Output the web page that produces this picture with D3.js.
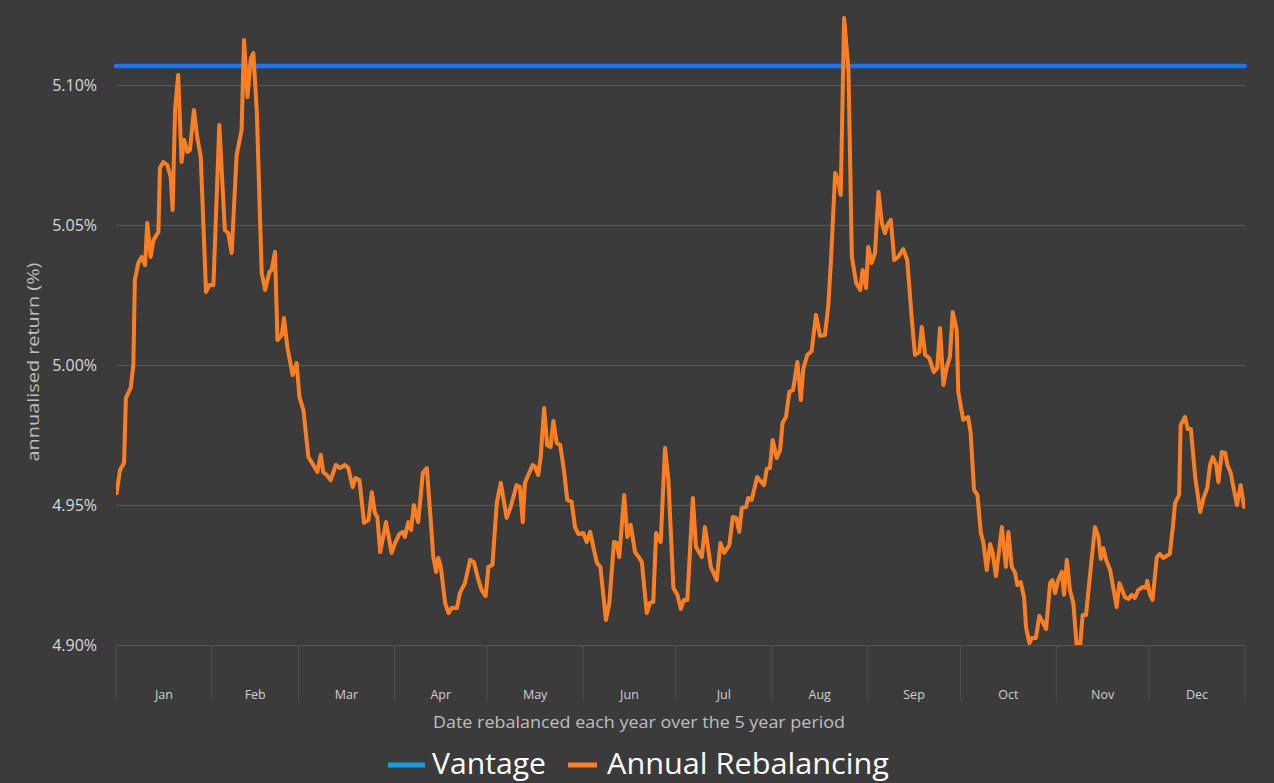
<!DOCTYPE html>
<html>
<head>
<meta charset="utf-8">
<script src="https://cdn.jsdelivr.net/npm/d3@7"></script>
<style>
  html, body { margin: 0; padding: 0; background: #3b3b3b; }
  svg { display: block; }
</style>
</head>
<body>
<div id="chart"></div>
<script>
const months = ["Jan", "Feb", "Mar", "Apr", "May", "Jun", "Jul", "Aug", "Sep", "Oct", "Nov", "Dec"];
const monthDays = [31, 28, 31, 30, 31, 30, 31, 31, 30, 31, 30, 31];
const yTicks = [4.9, 4.95, 5.0, 5.05, 5.1];
const vantage = 5.1068;
// [day of year, annualised return %]
const annualRebalancing = [
  [0.2,4.9542],[1.3,4.9625],[2.6,4.965],[3.2,4.9882],[4.75,4.9918],[5.6,5.0],[6.1,5.0304],[7.2,5.0364],
  [8.3,5.0386],[9.4,5.0357],[10.1,5.0507],[11.2,5.0386],[12.1,5.0446],[13.7,5.0475],[14.2,5.0704],[15.3,5.0725],
  [16.6,5.0714],[17.7,5.0671],[18.3,5.0554],[19.1,5.0911],[20.1,5.1036],[21.2,5.0725],[22.0,5.0804],[23.1,5.0761],
  [23.9,5.0768],[25.2,5.0911],[26.3,5.0811],[27.4,5.0743],[29.1,5.0261],[30.2,5.0286],[31.5,5.0286],[33.4,5.0857],
  [35.2,5.0482],[36.3,5.0471],[37.4,5.04],[39.0,5.075],[40.6,5.0839],[41.4,5.1161],[42.5,5.0957],[43.6,5.1096],
  [44.4,5.1114],[45.5,5.0911],[47.1,5.0329],[48.2,5.0268],[49.6,5.0332],[50.3,5.0339],[51.4,5.0404],[52.2,5.0089],
  [53.6,5.0107],[54.3,5.0168],[55.4,5.0064],[57.1,4.9964],[58.4,5.0007],[59.3,4.9886],[60.6,4.9839],[62.2,4.9671],
  [63.8,4.9643],[65.1,4.9618],[66.2,4.9679],[67.0,4.9618],[68.1,4.9607],[69.4,4.9589],[71.1,4.9643],[72.4,4.9632],
  [74.0,4.9643],[75.1,4.9632],[76.5,4.9564],[77.4,4.9596],[78.7,4.9589],[80.2,4.9436],[81.6,4.9446],[82.7,4.9546],
  [83.7,4.9471],[84.5,4.9457],[85.4,4.9332],[87.3,4.9439],[89.1,4.9329],[90.2,4.9364],[91.6,4.9396],[92.7,4.9404],
  [93.4,4.9386],[94.5,4.9439],[95.4,4.9411],[96.3,4.95],[96.9,4.9471],[97.7,4.9439],[99.2,4.9614],[100.5,4.9632],
  [101.5,4.9482],[102.6,4.9314],[103.5,4.9261],[104.2,4.9311],[105.0,4.9279],[106.4,4.915],[107.5,4.9114],[108.5,4.9132],
  [110.2,4.9132],[111.2,4.9186],[112.8,4.9221],[114.5,4.9304],[115.7,4.9296],[117.0,4.9239],[118.2,4.9196],[119.5,4.9175],
  [120.4,4.9279],[121.7,4.9286],[123.1,4.9507],[124.4,4.9579],[126.3,4.9454],[127.6,4.9493],[129.5,4.9571],[130.6,4.9564],
  [131.5,4.9439],[132.2,4.9579],[133.3,4.9607],[134.7,4.9643],[135.5,4.9636],[136.5,4.9607],[137.3,4.9671],[138.4,4.9846],
  [139.4,4.9714],[140.5,4.9707],[141.4,4.98],[142.5,4.9721],[143.6,4.9714],[144.8,4.9625],[145.9,4.9518],[147.3,4.9511],
  [148.4,4.9421],[149.5,4.9396],[151.1,4.94],[152.2,4.9368],[153.3,4.9404],[154.3,4.935],[155.5,4.9293],[156.6,4.9279],
  [158.4,4.9089],[159.5,4.915],[161.0,4.9368],[161.9,4.9364],[162.7,4.9314],[164.3,4.9536],[165.3,4.9386],[166.4,4.9429],
  [167.8,4.9332],[169.2,4.9311],[170.0,4.9296],[171.6,4.9114],[172.6,4.915],[173.7,4.9154],[174.6,4.94],[176.1,4.9368],
  [177.5,4.9704],[178.6,4.9589],[180.2,4.9204],[181.5,4.9179],[182.6,4.9129],[183.6,4.9161],[184.7,4.9161],[186.5,4.9525],
  [187.5,4.935],[189.4,4.9314],[190.4,4.9421],[191.2,4.9364],[192.3,4.9279],[194.2,4.9232],[195.4,4.9364],[196.6,4.9329],
  [198.3,4.9357],[199.4,4.9457],[200.5,4.9454],[201.5,4.9404],[202.3,4.9489],[203.7,4.9493],[204.4,4.9525],[205.5,4.9518],
  [207.3,4.96],[209.5,4.9571],[210.4,4.9629],[211.4,4.9632],[212.3,4.9732],[213.6,4.9668],[214.7,4.9696],[215.5,4.9793],
  [216.6,4.9814],[217.7,4.9904],[218.9,4.9911],[220.3,5.0011],[221.4,4.9875],[222.2,4.9986],[223.5,5.0036],[224.9,5.005],
  [226.3,5.0179],[227.6,5.0104],[229.2,5.0107],[230.3,5.0214],[231.1,5.0364],[232.5,5.0686],[233.5,5.0661],[234.3,5.0607],
  [235.4,5.1239],[236.8,5.1054],[237.9,5.0386],[239.3,5.0293],[240.6,5.0268],[241.4,5.0339],[242.5,5.0275],[243.2,5.0421],
  [244.3,5.0364],[245.4,5.04],[246.5,5.0618],[247.6,5.0507],[248.6,5.0471],[249.4,5.05],[250.5,5.0518],[251.6,5.0375],
  [252.9,5.0386],[254.5,5.0414],[255.8,5.0375],[257.3,5.0161],[258.3,5.0036],[259.7,5.0046],[260.5,5.0136],[261.6,5.0036],
  [262.9,5.0025],[264.4,4.9975],[265.5,4.9989],[266.4,5.0132],[267.5,4.9929],[268.6,4.9993],[269.6,5.0029],[270.5,5.0189],
  [271.8,5.0125],[272.3,4.9904],[273.9,4.9804],[275.5,4.9814],[276.3,4.9757],[277.4,4.9554],[278.5,4.9536],[279.6,4.94],
  [280.4,4.9368],[281.5,4.9268],[282.6,4.9361],[283.4,4.9329],[284.5,4.9246],[286.4,4.9421],[287.7,4.9279],[288.5,4.9404],
  [289.6,4.9279],[290.7,4.9257],[291.4,4.9214],[292.5,4.9225],[293.6,4.9168],[294.2,4.9064],[295.3,4.9007],[296.1,4.9025],
  [297.4,4.9025],[298.5,4.9104],[299.6,4.9082],[300.7,4.9057],[302.0,4.9221],[302.8,4.9232],[303.6,4.9186],[304.6,4.9232],
  [305.8,4.9261],[306.5,4.9179],[307.4,4.9304],[308.4,4.9196],[309.5,4.915],[310.6,4.8995],[311.7,4.8995],[312.5,4.9107],
  [313.6,4.9107],[314.9,4.925],[316.5,4.9421],[317.6,4.9386],[318.4,4.9307],[319.2,4.9346],[320.1,4.9304],[321.4,4.9268],
  [322.7,4.9186],[323.5,4.9136],[324.4,4.9221],[326.2,4.9171],[327.3,4.9164],[328.4,4.9179],[329.4,4.9168],[330.5,4.9196],
  [331.9,4.9207],[333.0,4.9204],[333.4,4.9229],[334.3,4.9179],[335.1,4.9161],[336.5,4.9314],[337.5,4.9325],[338.6,4.9311],
  [340.7,4.9325],[341.8,4.9436],[342.4,4.9507],[343.7,4.9536],[344.2,4.9786],[345.6,4.9814],[346.5,4.9771],[347.5,4.9771],
  [348.9,4.96],[350.5,4.9475],[351.6,4.9525],[352.8,4.9561],[353.7,4.9643],[354.6,4.9671],[355.7,4.9643],[356.4,4.9582],
  [357.5,4.9689],[358.6,4.9686],[359.3,4.9643],[360.4,4.9614],[361.5,4.955],[362.4,4.95],[363.6,4.9571],[364.7,4.9493]
];

const w = 1274;
const h = 783;
const plotLeft = 116;
const plotRight = 1245;
const plotTop = 85;
const plotBottom = 645;
const font = "'Open Sans', 'DejaVu Sans', sans-serif";

const svg = d3
  .select("#chart")
  .append("svg")
  .attr("width", w)
  .attr("height", h)
  .style("font-family", font);

svg.append("rect").attr("width", w).attr("height", h).attr("fill", "#3b3b3b");

const totalDays = d3.sum(monthDays);
const xScale = d3.scaleLinear().domain([0, totalDays]).range([plotLeft, plotRight]);
const yScale = d3.scaleLinear().domain([4.9, 5.1]).range([plotBottom, plotTop]);

// horizontal gridlines + y labels
const yAxis = d3
  .axisLeft(yScale)
  .tickValues(yTicks)
  .tickSize(-(plotRight - plotLeft))
  .tickPadding(19)
  .tickFormat((d) => d.toFixed(2) + "%");
svg
  .append("g")
  .attr("transform", `translate(${plotLeft},0)`)
  .call(yAxis)
  .call((g) => g.select(".domain").remove())
  .call((g) => g.selectAll(".tick line").attr("stroke", "#575757").attr("stroke-width", 1.2))
  .call((g) =>
    g.selectAll(".tick text")
      .attr("fill", "#d9d9d9")
      .attr("font-size", 16)
      .attr("font-family", font)
  );

// month bands along the bottom
const monthStart = [0, ...d3.cumsum(monthDays)];
svg
  .append("g")
  .selectAll("line")
  .data(monthStart)
  .enter()
  .append("line")
  .attr("x1", (d) => xScale(d))
  .attr("x2", (d) => xScale(d))
  .attr("y1", plotBottom)
  .attr("y2", 701)
  .attr("stroke", "#4f4f4f")
  .attr("stroke-width", 1);

svg
  .append("g")
  .selectAll("text")
  .data(months)
  .enter()
  .append("text")
  .attr("x", (d, i) => xScale(monthStart[i] + monthDays[i] / 2))
  .attr("y", 699)
  .attr("text-anchor", "middle")
  .attr("font-size", 12.5)
  .attr("fill", "#d0d0d0")
  .text((d) => d);

// clip for the series
svg
  .append("clipPath")
  .attr("id", "plot-clip")
  .append("rect")
  .attr("x", plotLeft)
  .attr("y", 0)
  .attr("width", plotRight - plotLeft)
  .attr("height", plotBottom);

// Vantage
svg
  .append("line")
  .attr("x1", xScale(0))
  .attr("x2", xScale(totalDays))
  .attr("y1", yScale(vantage))
  .attr("y2", yScale(vantage))
  .attr("stroke", "#2174f0")
  .attr("stroke-width", 4.5)
  .attr("stroke-linecap", "round");

// Annual Rebalancing
const line = d3
  .line()
  .x((d) => xScale(d[0]))
  .y((d) => yScale(d[1]));
svg
  .append("path")
  .datum(annualRebalancing)
  .attr("clip-path", "url(#plot-clip)")
  .attr("d", line)
  .attr("fill", "none")
  .attr("stroke", "#fd7f24")
  .attr("stroke-width", 4)
  .attr("stroke-linejoin", "round")
  .attr("stroke-linecap", "round");

// axis titles
svg
  .append("text")
  .attr("x", 639)
  .attr("y", 728)
  .attr("text-anchor", "middle")
  .attr("font-size", 17)
  .attr("fill", "#bfbfbf")
  .attr("textLength", 412)
  .attr("lengthAdjust", "spacingAndGlyphs")
  .text("Date rebalanced each year over the 5 year period");

svg
  .append("text")
  .attr("transform", "translate(39,362) rotate(-90)")
  .attr("text-anchor", "middle")
  .attr("font-size", 17)
  .attr("fill", "#bfbfbf")
  .attr("textLength", 199)
  .attr("lengthAdjust", "spacingAndGlyphs")
  .text("annualised return (%)");

// legend
const legendItems = [
  { name: "Vantage", color: "#1a9be6", x1: 388, x2: 425, tx: 432, len: 114 },
  { name: "Annual Rebalancing", color: "#fd7f24", x1: 568, x2: 597, tx: 607, len: 282 },
];
const legend = svg.append("g");
legend
  .selectAll("line")
  .data(legendItems)
  .enter()
  .append("line")
  .attr("x1", (d) => d.x1)
  .attr("x2", (d) => d.x2)
  .attr("y1", 765)
  .attr("y2", 765)
  .attr("stroke", (d) => d.color)
  .attr("stroke-width", 5);
legend
  .selectAll("text")
  .data(legendItems)
  .enter()
  .append("text")
  .attr("x", (d) => d.tx)
  .attr("y", 774)
  .attr("font-size", 30)
  .attr("fill", "#ffffff")
  .attr("textLength", (d) => d.len)
  .attr("lengthAdjust", "spacingAndGlyphs")
  .text((d) => d.name);
</script>
</body>
</html>
